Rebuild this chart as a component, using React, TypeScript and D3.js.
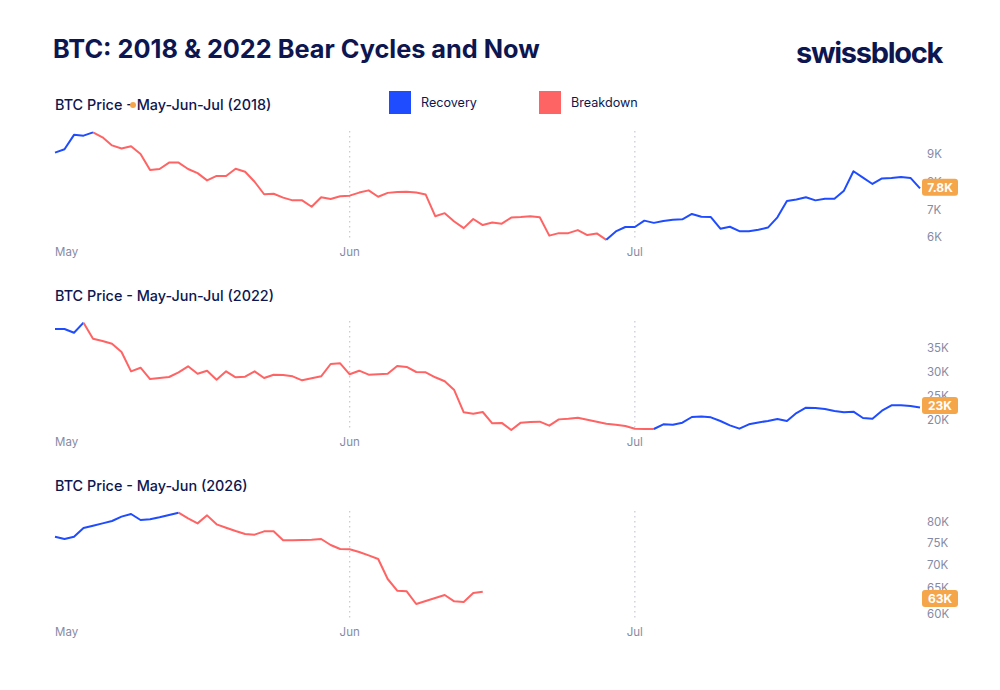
import * as d3 from "d3";

// BTC prices (thousands of USD), one point per day starting May 1
const btc2018 = [
  9.05, 9.17, 9.69, 9.66, 9.78, 9.6, 9.31, 9.2, 9.28, 9.0,
  8.42, 8.46, 8.69, 8.69, 8.46, 8.31, 8.05, 8.21, 8.21, 8.47,
  8.36, 8.0, 7.55, 7.57, 7.43, 7.33, 7.33, 7.1, 7.44, 7.38,
  7.48, 7.5, 7.61, 7.69, 7.46, 7.6, 7.63, 7.64, 7.61, 7.54,
  6.76, 6.87, 6.57, 6.33, 6.66, 6.44, 6.53, 6.49, 6.71, 6.73,
  6.76, 6.72, 6.06, 6.15, 6.15, 6.26, 6.08, 6.14, 5.91, 6.21,
  6.37, 6.37, 6.6, 6.52, 6.59, 6.63, 6.65, 6.84, 6.74, 6.73,
  6.31, 6.38, 6.22, 6.22, 6.27, 6.35, 6.72, 7.31, 7.36, 7.44,
  7.33, 7.39, 7.39, 7.68, 8.38, 8.15, 7.92, 8.12, 8.14, 8.17,
  8.14, 7.76,
];

const btc2022 = [
  38.88, 38.88, 38.11, 40.19, 36.87, 36.39, 35.83, 34.11, 30.1, 30.85,
  28.5, 28.71, 28.92, 29.9, 31.14, 29.6, 30.23, 28.36, 30.1, 28.86,
  28.98, 30.1, 28.71, 29.4, 29.33, 29.06, 28.23, 28.65, 29.06, 31.62,
  31.76, 29.48, 30.23, 29.4, 29.5, 29.6, 31.2, 31.0, 29.96, 29.9,
  28.86, 28.03, 26.22, 21.6, 21.31, 21.66, 19.31, 19.4, 17.93, 19.45,
  19.59, 19.65, 18.82, 20.13, 20.27, 20.48, 20.06, 19.65, 19.24, 19.03,
  18.76, 18.2, 18.13, 18.13, 19.1, 19.03, 19.44, 20.62, 20.75, 20.55,
  19.79, 18.89, 18.2, 19.1, 19.5, 19.79, 20.2, 19.79, 21.45, 22.55,
  22.48, 22.28, 21.87, 21.6, 21.73, 20.41, 20.27, 21.93, 23.04, 23.04,
  22.9, 22.6,
];

const btc2026 = [
  76.41, 75.86, 76.41, 78.52, 79.09, 79.66, 80.25, 81.35, 82.03, 80.5,
  80.67, 81.18, 81.78, 82.36, 80.92, 79.66, 81.68, 79.42, 78.59, 77.78,
  77.05, 76.9, 77.7, 77.7, 75.55, 75.58, 75.62, 75.66, 75.86, 74.45,
  73.52, 73.45, 72.83, 72.08, 71.26, 66.94, 64.54, 64.41, 61.91, 62.49,
  63.08, 63.68, 62.42, 62.29, 64.07, 64.34,
];

// regime segments: [start index, end index, kind]
type Phase = [number, number, "recovery" | "breakdown"];
const phases2018: Phase[] = [[0, 4, "recovery"], [4, 58, "breakdown"], [58, 91, "recovery"]];
const phases2022: Phase[] = [[0, 3, "recovery"], [3, 63, "breakdown"], [63, 91, "recovery"]];
const phases2026: Phase[] = [[0, 13, "recovery"], [13, 45, "breakdown"]];

const ticks2018 = [6, 7, 8, 9];
const ticks2022 = [20, 25, 30, 35];
const ticks2026 = [60, 65, 70, 75, 80];

const badge2018 = 7.8;
const badge2022 = 23;
const badge2026 = 63;

const legendItems = ["Recovery", "Breakdown"];

const BLUE = "#1f4cff";
const RED = "#ff6464";
const ORANGE = "#f5a54a";
const NAVY = "#0e1650";
const GREY = "#868aa3";
const FONT = "Inter, 'Noto Sans', sans-serif";

const start = new Date(2018, 4, 1);
const end = new Date(2018, 6, 31);
const x = d3.scaleTime().domain([start, end]).range([55, 920]);
const dayDate = (i: number) => d3.timeDay.offset(start, i);
const months = d3.timeMonth.range(start, end);

interface PanelProps {
  title: string;
  values: number[];
  phases: Phase[];
  ticks: number[];
  badge: number;
  badgeText: string;
  yDomain: [number, number];
  yRange: [number, number];
  log?: boolean;
  titleY: number;
  gridTop: number;
  gridBottom: number;
  monthY: number;
}

function Panel(p: PanelProps) {
  const y = p.log
    ? d3.scaleLog().domain(p.yDomain).range(p.yRange)
    : d3.scaleLinear().domain(p.yDomain).range(p.yRange);
  const fmt = (v: number) => `${v}K`;
  return (
    <g>
      <text x={55} y={p.titleY} fontSize={14.4} fill={NAVY} fontFamily={FONT} fontWeight={500}>
        {p.title}
      </text>
      {months.slice(1).map((m) => (
        <line
          key={m.toISOString()}
          x1={x(m)}
          x2={x(m)}
          y1={p.gridTop}
          y2={p.gridBottom}
          stroke="#c6c8d3"
          strokeWidth={1.2}
          strokeDasharray="1.5 3.5"
        />
      ))}
      {months.map((m, i) => (
        <text
          key={"l" + i}
          x={x(m)}
          y={p.monthY}
          fontSize={11.5}
          fill={GREY}
          fontFamily={FONT}
          textAnchor={i === 0 ? "start" : "middle"}
        >
          {d3.timeFormat("%b")(m)}
        </text>
      ))}
      {p.phases.map(([s, e, kind], k) => {
        const pts = p.values.slice(s, e + 1);
        const path = d3
          .line<number>()
          .x((_, i) => x(dayDate(s + i)))
          .y((d) => y(d))(pts);
        return (
          <path
            key={k}
            d={path ?? ""}
            fill="none"
            stroke={kind === "recovery" ? BLUE : RED}
            strokeWidth={2}
            strokeLinejoin="round"
          />
        );
      })}
      {p.ticks.map((t) => (
        <text
          key={t}
          x={927}
          y={y(t)}
          dy="0.35em"
          fontSize={11.5}
          fill={GREY}
          fontFamily={FONT}
        >
          {fmt(t)}
        </text>
      ))}
      <rect x={922} y={y(p.badge) - 8.5} width={36} height={17} rx={3} fill={ORANGE} />
      <text
        x={940}
        y={y(p.badge)}
        dy="0.36em"
        textAnchor="middle"
        fontSize={12}
        fontWeight={700}
        fill="#fff"
        fontFamily={FONT}
      >
        {p.badgeText}
      </text>
    </g>
  );
}

export default function App() {
  return (
    <svg
      width={1000}
      height={690}
      style={{ position: "absolute", left: 0, top: 0, background: "#fff" }}
    >
      <rect width={1000} height={690} fill="#fff" />
      <text x={53} y={58} fontSize={25.3} fontWeight={700} fill={NAVY} fontFamily={FONT}>
        BTC: 2018 &amp; 2022 Bear Cycles and Now
      </text>
      <text x={796} y={63} fontSize={29} fontWeight={700} fill={NAVY} fontFamily={FONT} letterSpacing={-1.3}>
        swissblock
      </text>
      {legendItems.map((name, i) => (
        <g key={name} transform={`translate(${389 + i * 150},91)`}>
          <rect width={22} height={23} fill={i === 0 ? BLUE : RED} />
          <text x={32} y={12} dy="0.35em" fontSize={12.6} fill={NAVY} fontFamily={FONT}>
            {name}
          </text>
        </g>
      ))}
      <Panel
        title="BTC Price - May-Jun-Jul (2018)"
        values={btc2018}
        phases={phases2018}
        ticks={ticks2018}
        badge={badge2018}
        badgeText="7.8K"
        yDomain={[6, 9]}
        yRange={[237.3, 154]}
        titleY={110}
        gridTop={131}
        gridBottom={241}
        monthY={256}
      />
      <circle cx={133} cy={105} r={3} fill={ORANGE} />
      <Panel
        title="BTC Price - May-Jun-Jul (2022)"
        values={btc2022}
        phases={phases2022}
        ticks={ticks2022}
        badge={badge2022}
        badgeText="23K"
        yDomain={[20, 35]}
        yRange={[420, 347.7]}
        titleY={301}
        gridTop={321}
        gridBottom={431}
        monthY={446}
      />
      <Panel
        title="BTC Price - May-Jun (2026)"
        values={btc2026}
        phases={phases2026}
        ticks={ticks2026}
        badge={badge2026}
        badgeText="63K"
        yDomain={[60, 80]}
        yRange={[614, 522]}
        log
        titleY={491}
        gridTop={511}
        gridBottom={621}
        monthY={636}
      />
    </svg>
  );
}
